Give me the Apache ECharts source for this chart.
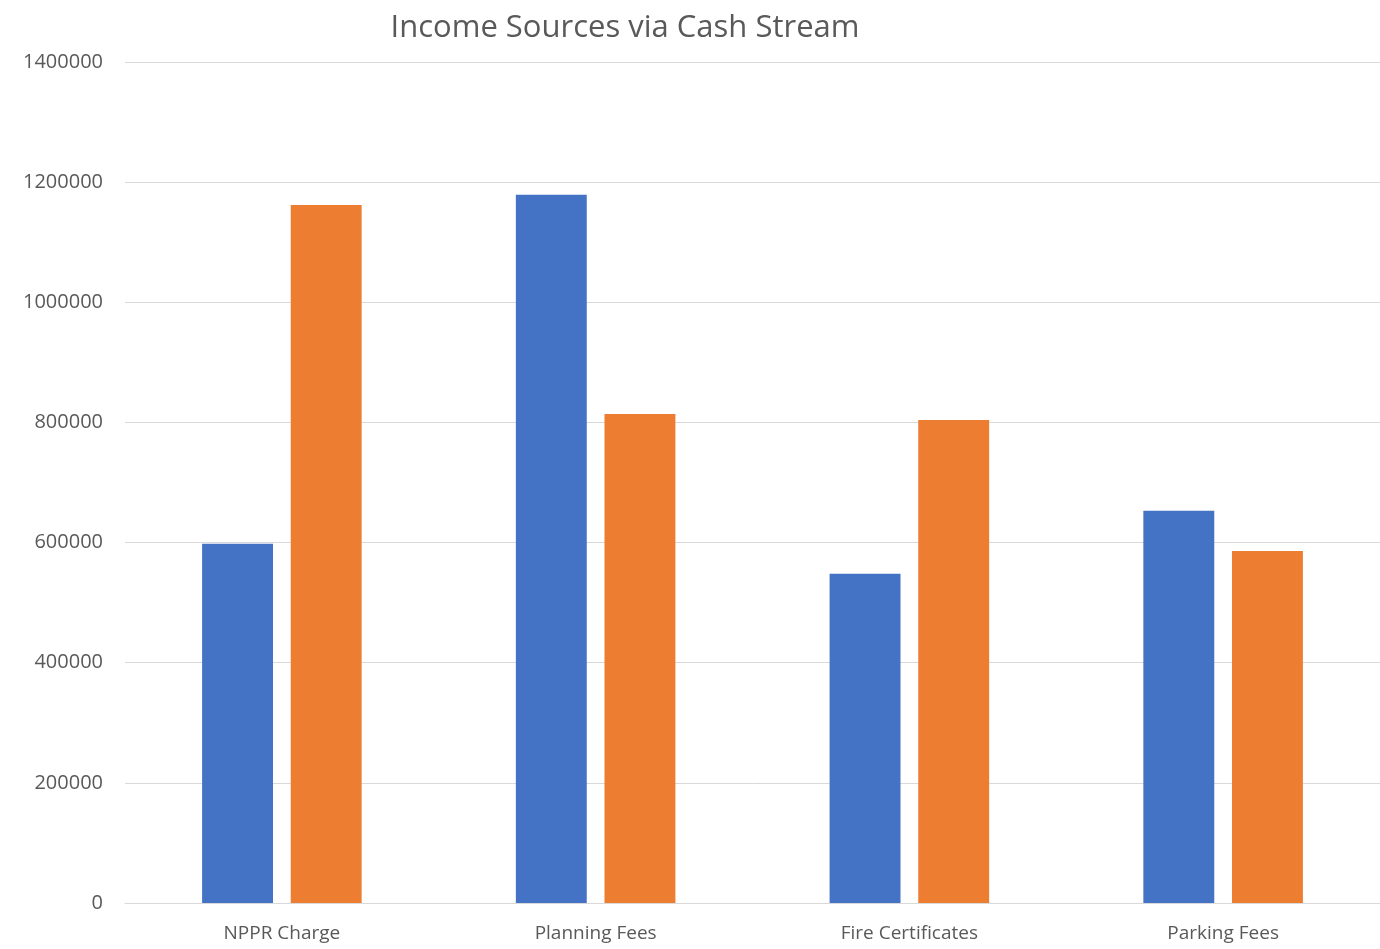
<!DOCTYPE html>
<html>
<head>
<meta charset="utf-8">
<script src="https://cdn.jsdelivr.net/npm/echarts@6/dist/echarts.min.js"></script>
<style>
  html, body {margin: 0; padding: 0; background: #fff;}
  #Chart {width: 1380px; height: 949px;}
</style>
</head>
<body>
<div id="Chart"></div>
<script>
  var categories = ['NPPR Charge', 'Planning Fees', 'Fire Certificates', 'Parking Fees']
  var seriesA = [598000, 1179000, 548000, 653000]
  var seriesB = [1162000, 814000, 804000, 586000]
  var yTicks = [0, 200000, 400000, 600000, 800000, 1000000, 1200000, 1400000]

  var myChart = echarts.init(document.getElementById('Chart'))
  myChart.setOption({
    backgroundColor: '#fff',
    animation: false,
    title: {
      text: 'Income Sources via Cash Stream',
      left: 620,
      top: 8,
      textAlign: 'center',
      textStyle: {
        fontFamily: 'Open Sans',
        fontSize: 31,
        fontWeight: 'normal',
        color: '#595959'
      }
    },
    grid: {
      left: 125,
      right: 0,
      top: 62,
      bottom: 46
    },
    xAxis: {
      type: 'category',
      data: categories,
      axisTick: {show: false},
      axisLine: {lineStyle: {color: '#d9d9d9', width: 1}},
      axisLabel: {
        margin: 21,
        fontFamily: 'Open Sans',
        fontSize: 19,
        color: '#595959'
      }
    },
    yAxis: {
      type: 'value',
      min: yTicks[0],
      max: yTicks[yTicks.length - 1],
      interval: 200000,
      axisLine: {show: false},
      axisTick: {show: false},
      splitLine: {lineStyle: {color: '#d9d9d9', width: 1}},
      axisLabel: {
        margin: 22,
        fontFamily: 'Open Sans',
        fontSize: 20,
        color: '#595959',
        formatter: function (v) { return String(v) }
      }
    },
    series: [
      {
        name: 'A',
        type: 'bar',
        data: seriesA,
        barWidth: '22.6%',
        barGap: '25%',
        itemStyle: {color: '#4472C4'}
      },
      {
        name: 'B',
        type: 'bar',
        data: seriesB,
        barWidth: '22.6%',
        itemStyle: {color: '#ED7D31'}
      }
    ]
  })
</script>
</body>
</html>
